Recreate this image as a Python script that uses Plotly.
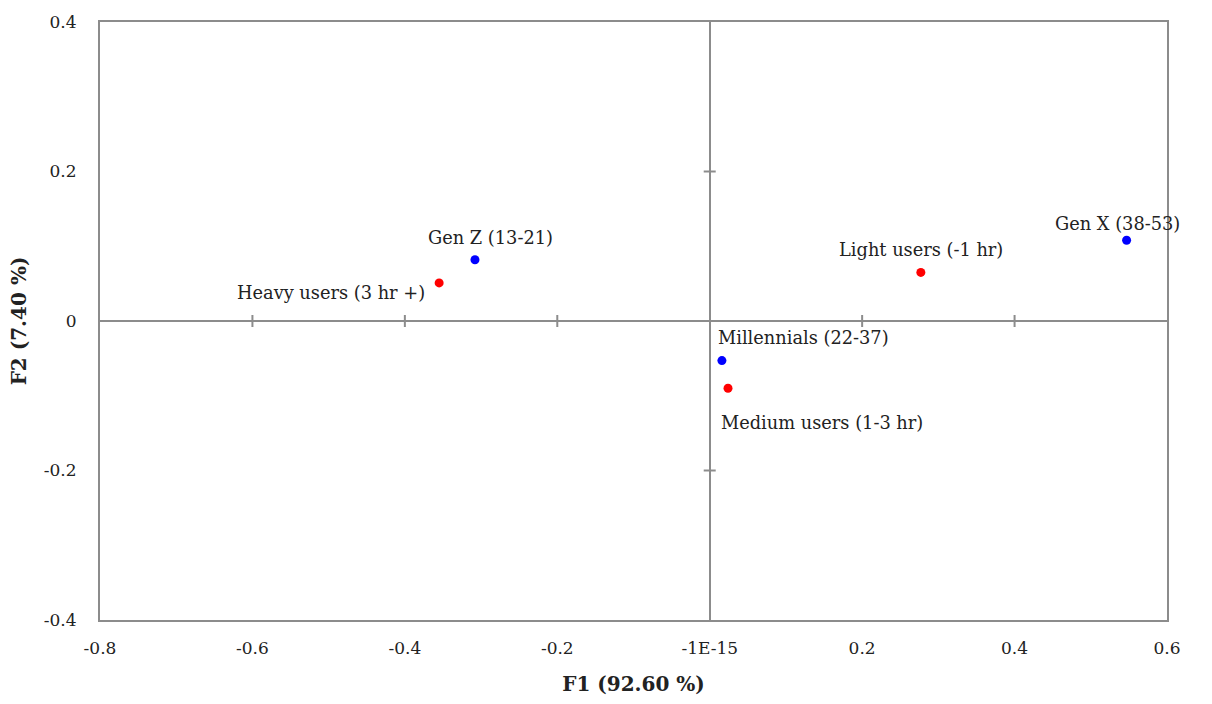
import plotly.graph_objects as go

# Data
labels = ["Gen Z (13-21)", "Millennials (22-37)", "Gen X (38-53)",
          "Heavy users (3 hr +)", "Medium users (1-3 hr)", "Light users (-1 hr)"]
f1 = [-0.308, 0.016, 0.547, -0.355, 0.024, 0.277]
f2 = [0.082, -0.053, 0.108, 0.051, -0.090, 0.065]
groups = ["age", "age", "age", "usage", "usage", "usage"]

x_ticks = [-0.8, -0.6, -0.4, -0.2, 0.0, 0.2, 0.4, 0.6]
x_ticktext = ["-0.8", "-0.6", "-0.4", "-0.2", "-1E-15", "0.2", "0.4", "0.6"]
y_ticks = [-0.4, -0.2, 0.0, 0.2, 0.4]
y_ticktext = ["-0.4", "-0.2", "0", "0.2", "0.4"]

# Styles
colors = {"age": "#0000FF", "usage": "#FF0000"}
label_style = {  # xanchor, xshift, yshift
    "Gen Z (13-21)": ("center", 16, 22),
    "Millennials (22-37)": ("left", -6, 23),
    "Gen X (38-53)": ("center", -9, 17),
    "Heavy users (3 hr +)": ("right", -12, -10),
    "Medium users (1-3 hr)": ("left", -9, -34),
    "Light users (-1 hr)": ("center", 0, 23),
}
FONT = "DejaVu Serif"
AXC = "#8c8c8c"
TXT = "#222222"

fig = go.Figure()
for g in ["age", "usage"]:
    idx = [i for i, gg in enumerate(groups) if gg == g]
    fig.add_trace(go.Scatter(
        x=[f1[i] for i in idx], y=[f2[i] for i in idx], mode="markers",
        marker=dict(color=colors[g], size=9), showlegend=False,
        hoverinfo="text", text=[labels[i] for i in idx]))

for lab, xv, yv in zip(labels, f1, f2):
    xa, xs, ys = label_style[lab]
    fig.add_annotation(x=xv, y=yv, text=lab, showarrow=False, xanchor=xa,
                       yanchor="middle", xshift=xs, yshift=ys,
                       font=dict(family=FONT, size=17.8, color=TXT))

# Tick marks crossing the zero lines
for t in x_ticks:
    if t not in (0.0, x_ticks[0], x_ticks[-1]):
        fig.add_shape(type="line", xref="x", yref="y", x0=t, x1=t,
                      ysizemode="pixel", yanchor=0, y0=-6, y1=6,
                      line=dict(color=AXC, width=2), layer="above")
for t in y_ticks:
    if t not in (0.0, y_ticks[0], y_ticks[-1]):
        fig.add_shape(type="line", xref="x", yref="y", y0=t, y1=t,
                      xsizemode="pixel", xanchor=0, x0=-6, x1=6,
                      line=dict(color=AXC, width=2), layer="above")

fig.update_layout(
    width=1212, height=704, plot_bgcolor="white", paper_bgcolor="white",
    margin=dict(l=100, r=45, t=15, b=74),
    font=dict(family=FONT, size=17, color=TXT),
    xaxis=dict(range=[-0.8, 0.6], tickvals=x_ticks, ticktext=x_ticktext,
               showgrid=False, zeroline=True, zerolinecolor=AXC, zerolinewidth=2,
               showline=True, mirror=True, linecolor=AXC, linewidth=2,
               ticks="", ticklabelstandoff=12, tickfont=dict(size=17),
               title=dict(text="<b>F1 (92.60 %)</b>", font=dict(size=20), standoff=20)),
    yaxis=dict(range=[-0.4, 0.4], tickvals=y_ticks, ticktext=y_ticktext,
               showgrid=False, zeroline=True, zerolinecolor=AXC, zerolinewidth=2,
               showline=True, mirror=True, linecolor=AXC, linewidth=2,
               ticks="", ticklabelstandoff=18, tickfont=dict(size=17),
               title=dict(text="<b>F2 (7.40 %)</b>", font=dict(size=20), standoff=12)),
)

fig.write_html("out.html")
